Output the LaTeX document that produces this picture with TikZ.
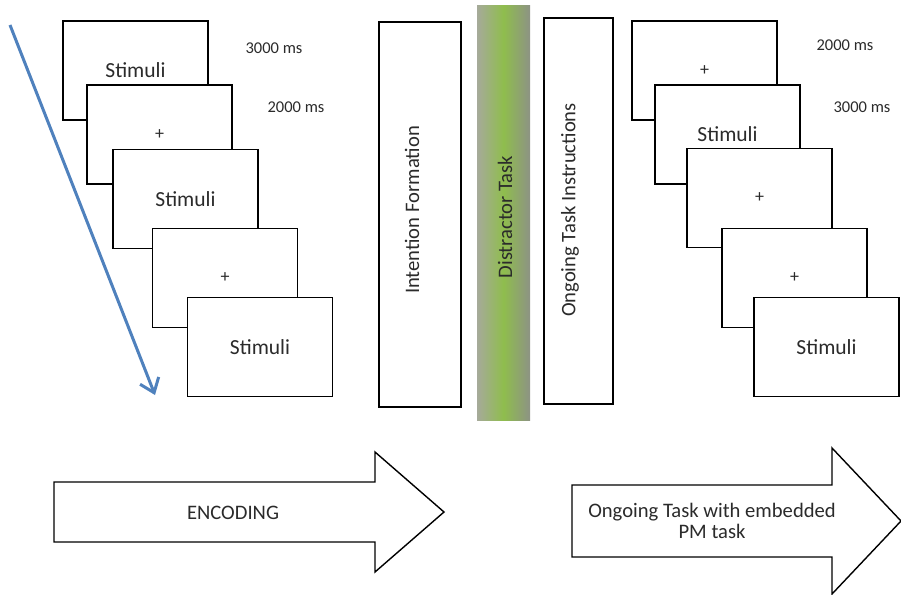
\documentclass[tikz,border=0pt]{standalone}
\usepackage{fontspec}
\setmainfont{Carlito}
\usetikzlibrary{arrows.meta}
\definecolor{ink}{HTML}{2B2B2B}
\definecolor{flowblue}{HTML}{4F81BD}
\definecolor{greyleft}{HTML}{A6AA9A}
\definecolor{greenmid}{HTML}{8FBD4D}
\definecolor{greyright}{HTML}{8D9384}
\begin{document}
\begin{tikzpicture}[x=1pt,y=-1pt,
  slide/.style={draw=black, line width=1.6pt, fill=white, minimum width=145pt,
    minimum height=99pt, inner sep=0pt, font=\fontsize{21.5}{24}\selectfont, text=ink},
  fixation/.style={slide, font=\fontsize{18}{20}\selectfont},
  panel/.style={draw=black, line width=1.6pt, fill=white, inner sep=0pt},
  timing/.style={font=\fontsize{16.5}{20}\selectfont, text=ink},
  caption/.style={font=\fontsize{20.6}{24}\selectfont, text=ink, align=center},
  vcaption/.style={caption, rotate=90},
  blockarrow/.style={draw=black, line width=1.4pt, fill=white, line join=miter}]
\useasboundingbox (0,0) rectangle (901,594);

% encoding sequence (left stack)
\node[slide]    (l1) at (135.5,70.5)  {Stimuli};
\node[fixation] (l2) at (159.5,134.5) {+};
\node[slide]    (l3) at (185.5,199)   {Stimuli};
\node[fixation] (l4) at (225,278)     {+};
\node[slide]    (l5) at (260,347)     {Stimuli};
\node[timing] (t3000a) at (274,48) {3000 ms};
\node[timing] (t2000a) at (296,107) {2000 ms};

% time direction
\coordinate (tstart) at (10,25);
\coordinate (tend) at (155,395);
\draw[flowblue, line width=3pt, -{Straight Barb[length=13pt,width=20pt,line width=3pt]}] (tstart) -- (tend);

% intermediate phases
\node[panel, minimum width=82pt, minimum height=385pt] (intent) at (420,214.5) {};
\node[vcaption] (intenttext) at (412,210) {Intention Formation};
\node[inner sep=0pt, minimum width=53pt, minimum height=414pt,
      left color=greyleft, right color=greyright, middle color=greenmid] (distract) at (503.5,213) {};
\node[vcaption] (distracttext) at (505,217) {Distractor Task};
\node[panel, minimum width=69pt, minimum height=386pt] (instr) at (578.5,211) {};
\node[vcaption] (instrtext) at (570,210) {Ongoing Task Instructions};

% ongoing task sequence (right stack)
\node[fixation] (r1) at (704.5,70.5)  {+};
\node[slide]    (r2) at (727.5,134.5) {Stimuli};
\node[fixation] (r3) at (759.5,198)   {+};
\node[fixation] (r4) at (794.5,278)   {+};
\node[slide]    (r5) at (826.5,347)   {Stimuli};
\node[timing] (t2000b) at (845,45) {2000 ms};
\node[timing] (t3000b) at (862,107) {3000 ms};

% phase arrows
\draw[blockarrow] (54,482) -- (375,482) -- (375,452) -- (444,512) -- (375,572)
  -- (375,542) -- (54,542) -- cycle;
\node[caption] (encoding) at (233,513) {ENCODING};
\draw[blockarrow] (572,485) -- (832,485) -- (832,448) -- (901,521) -- (832,594)
  -- (832,557) -- (572,557) -- cycle;
\node[caption, font=\fontsize{20.6}{21}\selectfont] (ongoing) at (712,521)
  {Ongoing Task with embedded\\PM task};
\end{tikzpicture}
\end{document}
